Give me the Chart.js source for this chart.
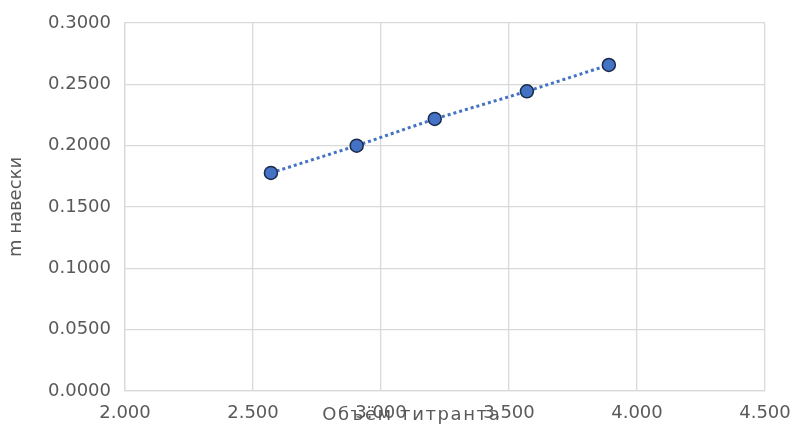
<!DOCTYPE html>
<html>
<head>
<meta charset="utf-8">
<script src="https://cdn.jsdelivr.net/npm/chart.js@4/dist/chart.umd.min.js"></script>
<style>
  html, body { margin: 0; padding: 0; background: #fff; }
  #wrap { width: 792px; height: 430px; position: relative; }
</style>
</head>
<body>
<div id="wrap"><canvas id="c" width="792" height="430"></canvas></div>
<script>
// Титрование: объём титранта и масса навески
const volumes = [2.57, 2.905, 3.21, 3.57, 3.89];
const masses = [0.1778, 0.2000, 0.2218, 0.2443, 0.2658];
const xTitle = 'Объём титранта';
const yTitle = 'm навески';

const FONT = '"DejaVu Sans", "Open Sans", sans-serif';
const FONT_SIZE = 18;
const GREY_TEXT = '#595959';
const GRID = '#d9d9d9';

// Axis title drawn over the tick row, as in the original layout
const xTitlePlugin = {
  id: 'xTitleOverlay',
  afterDraw(chart) {
    const { ctx, scales } = chart;
    const xs = scales.x;
    ctx.save();
    ctx.font = FONT_SIZE + 'px ' + FONT;
    if ('letterSpacing' in ctx) ctx.letterSpacing = '1.6px';
    ctx.fillStyle = GREY_TEXT;
    ctx.textAlign = 'center';
    ctx.textBaseline = 'middle';
    ctx.fillText(xTitle, xs.getPixelForValue(3.12), xs.top + 24);
    ctx.restore();
  }
};

new Chart(document.getElementById('c'), {
  type: 'scatter',
  data: {
    datasets: [{
      data: volumes.map((v, i) => ({ x: v, y: masses[i] })),
      showLine: true,
      borderColor: '#4472C4',
      borderWidth: 3,
      borderDash: [3, 3],
      pointBackgroundColor: '#4472C4',
      pointBorderColor: '#1c2b4a',
      pointBorderWidth: 1.5,
      pointRadius: 6.5,
      pointHoverRadius: 6.5
    }]
  },
  options: {
    responsive: false,
    animation: false,
    layout: { padding: { top: 23, right: 27, left: 0, bottom: 0 } },
    plugins: { legend: { display: false }, tooltip: { enabled: false } },
    scales: {
      x: {
        type: 'linear',
        min: 2, max: 4.5,
        ticks: {
          stepSize: 0.5,
          color: GREY_TEXT,
          font: { family: FONT, size: FONT_SIZE },
          padding: 12,
          maxRotation: 0,
          callback: v => v.toFixed(3)
        },
        grid: { color: GRID, lineWidth: 1.3, drawTicks: false },
        border: { color: GRID, width: 1.3 },
        afterFit(s) {
          s.height = 39;
          s.paddingLeft = 0;
          s.paddingRight = 0;
        }
      },
      y: {
        min: 0, max: 0.3,
        ticks: {
          stepSize: 0.05,
          color: GREY_TEXT,
          font: { family: FONT, size: FONT_SIZE },
          padding: 14,
          callback: v => v.toFixed(4)
        },
        title: {
          display: true,
          text: yTitle,
          color: GREY_TEXT,
          font: { family: FONT, size: FONT_SIZE },
          padding: { top: 6, bottom: 0 }
        },
        grid: { color: GRID, lineWidth: 1.3, drawTicks: false },
        border: { color: GRID, width: 1.3 },
        afterFit(s) {
          s.width = 125;
          s.paddingTop = 0;
          s.paddingBottom = 0;
        }
      }
    }
  },
  plugins: [xTitlePlugin]
});
</script>
</body>
</html>
